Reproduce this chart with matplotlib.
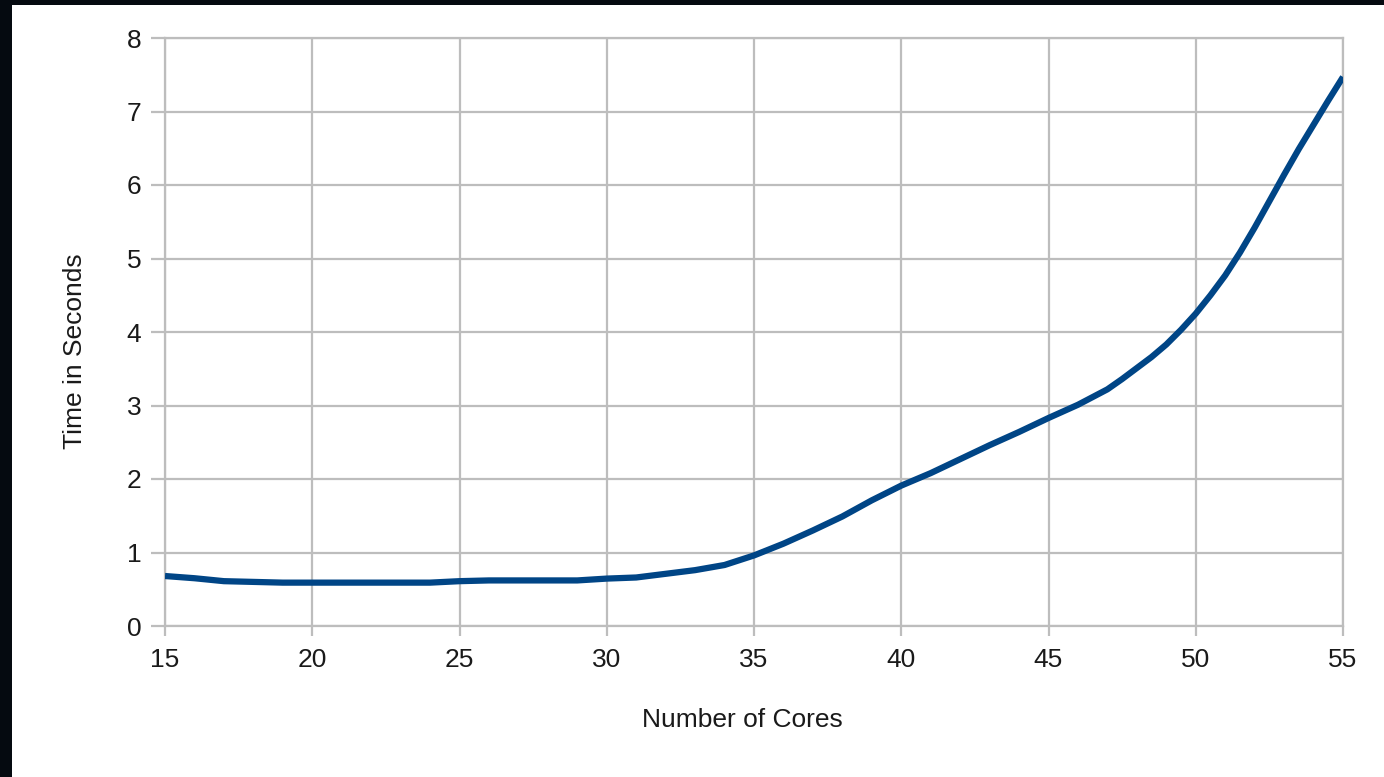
import numpy as np
import matplotlib.pyplot as plt
from matplotlib.patches import Rectangle

# data
cores = [15, 16, 17, 18, 19, 20, 21, 22, 23, 24, 25, 26, 27, 28, 29, 30,
         31, 32, 33, 34, 35, 36, 37, 38, 39, 40, 41, 42, 43, 44, 45,
         46, 47, 47.5, 48, 48.5, 49, 49.5, 50, 50.5, 51, 51.5, 52, 52.5,
         53, 53.5, 54, 54.5, 55]
seconds = [0.68, 0.65, 0.61, 0.60, 0.59, 0.59, 0.59, 0.59, 0.59, 0.59, 0.61,
           0.62, 0.62, 0.62, 0.62, 0.645, 0.66, 0.71, 0.76, 0.83, 0.96,
           1.12, 1.30, 1.49, 1.71, 1.91, 2.08, 2.27, 2.46, 2.64, 2.83,
           3.01, 3.22, 3.36, 3.51, 3.66, 3.83, 4.03, 4.25, 4.50, 4.77, 5.08,
           5.42, 5.78, 6.14, 6.49, 6.82, 7.15, 7.47]
xticks = [15, 20, 25, 30, 35, 40, 45, 50, 55]
yticks = [0, 1, 2, 3, 4, 5, 6, 7, 8]

plt.rcParams['font.family'] = ['Liberation Sans', 'DejaVu Sans']

W, H = 1384, 777
fig = plt.figure(figsize=(W / 100, H / 100), dpi=100, facecolor='white')
# dark frame on the left and top edges
fig.patches.append(Rectangle((0, 0), 12 / W, 1, transform=fig.transFigure,
                             facecolor='#050a10', edgecolor='none', zorder=-5))
fig.patches.append(Rectangle((0, 1 - 5 / H), 1, 5 / H, transform=fig.transFigure,
                             facecolor='#050a10', edgecolor='none', zorder=-5))

ax = fig.add_axes([165 / W, 1 - 626 / H, (1343 - 165) / W, (626 - 38) / H])
ax.set_facecolor('white')

grid_c = '#bdbdbd'
ax.plot(cores, seconds, color='#004586', lw=4.5, solid_capstyle='butt',
        solid_joinstyle='round', zorder=3)

ax.set_xlim(15, 55)
ax.set_ylim(0, 8)
ax.set_xticks(xticks)
ax.set_yticks(yticks)
ax.grid(True, color=grid_c, lw=1.6)
ax.set_axisbelow(True)
for s in ax.spines.values():
    s.set_color(grid_c)
    s.set_linewidth(1.6)

ax.tick_params(axis='x', length=7.5, width=1.6, color=grid_c, pad=8,
               labelsize=19, labelcolor='#1a1a1a')
ax.tick_params(axis='y', length=10, width=1.6, color=grid_c, pad=7,
               labelsize=19, labelcolor='#1a1a1a')

ax.set_xlabel('Number of Cores', fontsize=19, color='#1a1a1a')
ax.set_ylabel('Time in Seconds', fontsize=19, color='#1a1a1a')
ax.xaxis.set_label_coords((742 - 165) / (1343 - 165), -(720 - 626) / (626 - 38))
ax.yaxis.set_label_coords(-(165 - 75) / (1343 - 165), (626 - 351) / (626 - 38))
ax.xaxis.label.set_va('center')
ax.yaxis.label.set_va('center')

fig.savefig('out.png', dpi=100, facecolor=fig.get_facecolor())
